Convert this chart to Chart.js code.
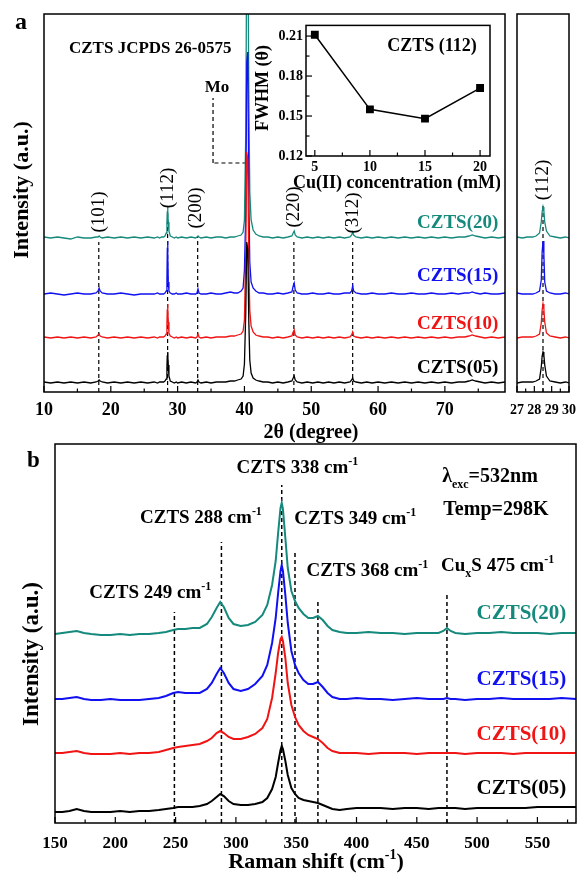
<!DOCTYPE html>
<html>
<head>
<meta charset="utf-8">
<script src="https://cdn.jsdelivr.net/npm/chart.js@4.4.1/dist/chart.umd.min.js"></script>
<style>
  html, body { margin: 0; padding: 0; background: #fff; }
  body { width: 586px; height: 875px; position: relative; overflow: hidden; }
  canvas { position: absolute; }
</style>
</head>
<body>
<canvas id="raman" width="586" height="445" style="left:0;top:430px"></canvas>
<canvas id="xrd" width="586" height="450" style="left:0;top:0"></canvas>
<canvas id="zoom" width="86" height="440" style="left:500px;top:0"></canvas>
<canvas id="fwhm" width="250" height="185" style="left:250px;top:14px"></canvas>
<script>
// ---- data ----
const samples = ['CZTS(05)', 'CZTS(10)', 'CZTS(15)', 'CZTS(20)'];

// XRD, 2theta in degrees, intensity in arbitrary offset units
const twoTheta = [
  10, 11, 12, 13, 14, 15, 16, 17, 17.8, 18.1,
  18.25, 18.4, 18.7, 19.5, 20.5, 21.5, 22.5, 23.5, 24.5, 25.5,
  26.5, 27, 27.3, 27.6, 27.9, 28.1, 28.3, 28.4, 28.45, 28.5,
  28.55, 28.6, 28.7, 28.9, 29.2, 29.5, 29.8, 30, 30.6, 31.3,
  32, 32.7, 32.9, 33.05, 33.2, 33.5, 34.3, 35, 35.8, 36.5,
  37.2, 37.9, 38.5, 39, 39.5, 39.8, 40.0, 40.2, 40.35, 40.5,
  40.65, 40.8, 41.0, 41.3, 41.7, 42.2, 42.8, 43.5, 44.2, 45,
  45.8, 46.5, 47.1, 47.3, 47.45, 47.6, 47.9, 48.6, 49.4, 50.2,
  51, 51.8, 52.6, 53.4, 54.2, 55, 55.8, 56.05, 56.2, 56.35,
  56.7, 57.5, 58.3, 59.1, 60, 61, 62, 63, 64, 65,
  66, 67, 68, 69, 70, 71, 72, 73, 73.6, 74.1,
  74.6, 75.3, 76, 77, 78, 79,
];
const xrd05 = [
  10, 9, 10, 9, 10, 9, 10, 9, 10, 11,
  12, 11, 10, 9, 10, 9, 10, 9, 10, 9,
  10, 9, 10, 10, 10, 11, 13, 25, 36, 40,
  37, 27, 16, 11, 10, 9, 10, 9, 10, 9,
  10, 9, 10, 12, 10, 9, 10, 9, 10, 10,
  10, 11, 11, 12, 13, 16, 28, 80, 150, 142,
  72, 32, 19, 14, 12, 11, 10, 10, 9, 10,
  9, 10, 11, 14, 16, 12, 10, 9, 10, 9,
  10, 9, 10, 9, 10, 9, 10, 12, 14, 11,
  10, 9, 10, 9, 10, 9, 10, 9, 10, 9,
  10, 9, 10, 9, 10, 9, 10, 10, 11, 12,
  11, 10, 9, 10, 9, 10,
];
const xrd10 = [
  55, 54, 55, 54, 55, 54, 55, 54, 55, 57,
  58, 56, 55, 54, 55, 54, 55, 54, 55, 54,
  55, 54, 55, 55, 55, 56, 58, 69, 82, 88,
  83, 70, 59, 56, 55, 54, 55, 54, 55, 54,
  55, 54, 55, 58, 55, 54, 55, 54, 55, 55,
  55, 56, 56, 57, 58, 61, 72, 140, 240, 232,
  130, 82, 66, 60, 57, 56, 55, 55, 54, 55,
  54, 55, 56, 60, 62, 57, 55, 54, 55, 54,
  55, 54, 55, 54, 55, 54, 55, 57, 60, 56,
  55, 54, 55, 54, 55, 54, 55, 54, 55, 54,
  55, 54, 55, 54, 55, 54, 55, 55, 56, 57,
  56, 55, 54, 55, 54, 55,
];
const xrd15 = [
  98, 99, 98, 97, 98, 99, 98, 98, 99, 101,
  104, 101, 99, 98, 98, 99, 98, 97, 98, 98,
  98, 99, 98, 98, 98, 99, 101, 112, 140, 151,
  138, 110, 101, 99, 98, 98, 99, 98, 98, 99,
  98, 98, 99, 103, 99, 98, 98, 99, 98, 98,
  99, 100, 99, 99, 101, 104, 122, 180, 330, 340,
  200, 130, 110, 104, 101, 99, 99, 98, 98, 99,
  98, 99, 100, 106, 109, 102, 99, 98, 98, 99,
  98, 98, 99, 98, 98, 99, 99, 101, 106, 101,
  99, 98, 98, 99, 98, 98, 99, 98, 98, 99,
  98, 98, 99, 98, 98, 99, 98, 99, 99, 100,
  99, 98, 99, 98, 98, 99,
];
const xrd20 = [
  155, 154, 155, 154, 153, 155, 154, 154, 155, 155,
  156, 155, 154, 155, 154, 155, 154, 155, 154, 155,
  154, 155, 154, 155, 155, 156, 159, 170, 180, 185,
  181, 170, 161, 156, 155, 154, 155, 154, 155, 154,
  155, 154, 155, 156, 155, 154, 155, 154, 155, 155,
  154, 155, 155, 156, 157, 160, 172, 260, 460, 470,
  300, 200, 172, 162, 158, 156, 155, 155, 154, 155,
  154, 155, 156, 159, 161, 157, 155, 154, 155, 154,
  155, 154, 155, 154, 155, 154, 155, 157, 160, 157,
  155, 154, 155, 154, 155, 154, 155, 154, 155, 154,
  155, 154, 155, 154, 155, 154, 155, 155, 156, 157,
  156, 155, 154, 155, 154, 155,
];
const xrdTicks = [10, 20, 30, 40, 50, 60, 70];
const zoomTicks = [27, 28, 29, 30];
const xrdPeaks = [18.2, 28.5, 33.0, 47.4, 56.2];
const xrdPeakLabels = ['(101)', '(112)', '(200)', '(220)', '(312)'];
const moPeak = 40.3;

// FWHM of (112) vs Cu(II) concentration
const concentration = [5, 10, 15, 20];
const fwhm = [0.211, 0.155, 0.148, 0.171];
const concTicks = [5, 10, 15, 20];
const fwhmTicks = [0.12, 0.15, 0.18, 0.21];

// Raman, shift in cm-1
const ramanShift = [
  150, 156, 162, 168, 174, 180, 188, 196, 204, 212,
  220, 228, 236, 242, 248, 252, 258, 264, 270, 276,
  280, 284, 287, 290, 294, 298, 304, 310, 316, 322,
  326, 330, 333, 335, 337, 338, 339, 341, 343, 346,
  349, 352, 356, 360, 364, 368, 372, 376, 380, 386,
  392, 400, 410, 420, 430, 440, 450, 460, 468, 472,
  475, 478, 482, 490, 500, 510, 520, 530, 540, 550,
  560, 570, 582,
];
const raman05 = [
  11, 11, 12, 14, 12, 11, 11, 11, 12, 11,
  12, 12, 13, 14, 15, 16, 16, 16, 17, 19,
  22, 26, 29, 27, 22, 19, 18, 18, 19, 21,
  25, 34, 46, 60, 73, 77, 74, 62, 48, 35,
  29, 25, 23, 22, 21, 20, 18, 16, 14, 13,
  14, 15, 15, 15, 14, 15, 15, 14, 15, 15,
  15, 15, 15, 14, 15, 15, 15, 15, 15, 16,
  16, 16, 16,
];
const raman10 = [
  70, 70, 71, 72, 70, 69, 69, 69, 70, 69,
  70, 70, 71, 73, 75, 76, 77, 78, 79, 82,
  85, 90, 92, 90, 86, 84, 84, 86, 89, 95,
  104, 125, 150, 170, 184, 186, 182, 165, 140, 118,
  106, 98, 92, 88, 86, 84, 80, 75, 72, 70,
  70, 70, 69, 70, 70, 70, 69, 70, 70, 70,
  70, 70, 70, 69, 70, 70, 70, 69, 70, 70,
  70, 70, 70,
];
const raman15 = [
  124, 124, 125, 126, 124, 123, 123, 124, 123, 123,
  123, 124, 125, 127, 130, 131, 130, 130, 130, 134,
  140, 149, 155, 150, 140, 134, 132, 134, 139, 147,
  158, 180, 205, 230, 252, 258, 252, 228, 200, 172,
  158, 150, 143, 139, 139, 141, 136, 130, 126, 124,
  124, 125, 124, 124, 123, 124, 125, 124, 124, 124,
  125, 124, 124, 123, 124, 124, 125, 124, 124, 124,
  124, 125, 124,
];
const raman20 = [
  189, 190, 191, 192, 190, 189, 188, 188, 189, 188,
  189, 189, 190, 191, 193, 194, 194, 195, 195, 199,
  206, 215, 221, 216, 205, 199, 197, 198, 201, 208,
  218, 238, 262, 290, 315, 320, 314, 285, 255, 232,
  222, 215, 209, 205, 205, 207, 203, 197, 193, 191,
  190, 190, 191, 190, 190, 189, 190, 190, 190, 192,
  195, 192, 190, 189, 190, 190, 191, 190, 190, 190,
  189, 190, 190,
];
const ramanTicks = [150, 200, 250, 300, 350, 400, 450, 500, 550];
const ramanModes = [249, 288, 338, 349, 368, 475];
const ramanModeNames = ['CZTS', 'CZTS', 'CZTS', 'CZTS', 'CZTS', 'CuxS'];

// ---- styling / layout ----
const SERIF = '"Liberation Serif", "Times New Roman", serif';
const COLORS = ['#000000', '#f01414', '#1010f0', '#14897c'];
const font = (size, weight = 'bold') => `${weight} ${size}px ${SERIF}`;

const xrdLayout = {
  lineTop: [150, 182, 155, 150, 150],
  labelX: [18.2, 28.5, 32.7, 47.4, 56.2],
  labelY: [180, 204, 184, 185, 179],
  sampleY: [25, 69, 117, 170],
};
const ramanLayout = {
  lineTop: [211, 281, 338, 273, 223, 231],
  labelX: [229, 271, 351, 399, 409, 517],
  labelY: [231, 306, 356, 305, 253, 258],
  sampleY: [36, 90, 145, 211],
};

const steps = (from, to, step) => {
  const out = [];
  for (let v = from; v <= to + 1e-9; v += step) out.push(v);
  return out;
};

const drawRich = (ctx, parts, x, yMid, size, align = 'center', color = '#000', weight = 'bold') => {
  const pieces = parts.map(([t, s]) => {
    const sz = s ? Math.round(size * 0.62) : size;
    ctx.font = font(sz, weight);
    return { t, s, sz, w: ctx.measureText(t).width };
  });
  const total = pieces.reduce((a, p) => a + p.w, 0);
  let cx = align === 'center' ? x - total / 2 : align === 'right' ? x - total : x;
  const base = yMid + size * 0.34;
  ctx.fillStyle = color;
  ctx.textAlign = 'left';
  ctx.textBaseline = 'alphabetic';
  pieces.forEach((p) => {
    ctx.font = font(p.sz, weight);
    const dy = p.s > 0 ? -size * 0.42 : p.s < 0 ? size * 0.3 : 0;
    ctx.fillText(p.t, cx, base + dy);
    cx += p.w;
  });
};

const drawVertical = (ctx, text, x, y, size, weight = 'bold') => {
  ctx.save();
  ctx.translate(x, y);
  ctx.rotate(-Math.PI / 2);
  ctx.font = font(size, weight);
  ctx.fillStyle = '#000';
  ctx.textAlign = 'center';
  ctx.textBaseline = 'middle';
  ctx.fillText(text, 0, 0);
  ctx.restore();
};

const drawFrame = (chart, t) => {
  const { ctx, chartArea: a, scales } = chart;
  ctx.save();
  ctx.setLineDash([]);
  ctx.strokeStyle = '#000';
  ctx.lineWidth = 1.5;
  ctx.strokeRect(a.left, a.top, a.right - a.left, a.bottom - a.top);
  ctx.lineWidth = 1.2;
  const tick = (scale, v, len) => {
    const p = scale.getPixelForValue(v);
    ctx.beginPath();
    if (scale.isHorizontal()) {
      ctx.moveTo(p, a.bottom);
      ctx.lineTo(p, a.bottom - len);
    } else {
      ctx.moveTo(a.left, p);
      ctx.lineTo(a.left + len, p);
    }
    ctx.stroke();
  };
  (t.xMajor || []).forEach((v) => tick(scales.x, v, 6));
  (t.xMinor || []).forEach((v) => tick(scales.x, v, 3.5));
  (t.yMajor || []).forEach((v) => tick(scales.y, v, 6));
  (t.yMinor || []).forEach((v) => tick(scales.y, v, 3.5));
  ctx.restore();
};

const dashed = (ctx, x1, y1, x2, y2, lw = 1.2) => {
  ctx.save();
  ctx.setLineDash([4, 3]);
  ctx.strokeStyle = '#000';
  ctx.lineWidth = lw;
  ctx.beginPath();
  ctx.moveTo(x1, y1);
  ctx.lineTo(x2, y2);
  ctx.stroke();
  ctx.restore();
};

const seriesSets = (xs, list, width) => list.map((ys, i) => ({
  label: samples[i],
  data: xs.map((x, j) => ({ x, y: ys[j] })),
  borderColor: COLORS[i],
  borderWidth: width,
  pointRadius: 0,
  tension: 0,
}));

const tickFont = (size) => ({ family: SERIF, weight: 'bold', size });
const xAxis = (min, max, ticks, height, size, padding) => ({
  type: 'linear',
  min,
  max,
  grid: { display: false, drawTicks: false },
  border: { display: false },
  afterBuildTicks: (s) => { s.ticks = ticks.map((v) => ({ value: v })); },
  afterFit: (s) => { s.height = height; },
  ticks: { color: '#000', padding, maxRotation: 0, autoSkip: false, font: tickFont(size) },
});
const baseOptions = (padding) => ({
  responsive: false,
  animation: false,
  events: [],
  layout: { padding },
  plugins: { legend: { display: false }, tooltip: { enabled: false } },
});

// ---- panel a : XRD ----
const xrdDecor = {
  id: 'xrdDecor',
  beforeDatasetsDraw(chart) {
    const { ctx, scales: { x, y } } = chart;
    xrdPeaks.forEach((p, i) => {
      const px = x.getPixelForValue(p);
      dashed(ctx, px, y.getPixelForValue(0), px, y.getPixelForValue(xrdLayout.lineTop[i]));
    });
    const mx = x.getPixelForValue(moPeak);
    const cx = x.getPixelForValue(35.3);
    const hy = y.getPixelForValue(229);
    dashed(ctx, mx, hy, cx, hy);
    dashed(ctx, cx, hy, cx, y.getPixelForValue(294));
  },
  afterDraw(chart) {
    const { ctx, scales: { x, y } } = chart;
    drawFrame(chart, { xMajor: xrdTicks, xMinor: steps(15, 75, 10) });
    xrdPeakLabels.forEach((t, i) => {
      drawVertical(ctx, t, x.getPixelForValue(xrdLayout.labelX[i]), y.getPixelForValue(xrdLayout.labelY[i]), 19, 'normal');
    });
    samples.forEach((s, i) => {
      drawRich(ctx, [[s, 0]], x.getPixelForValue(78), y.getPixelForValue(xrdLayout.sampleY[i]), 19, 'right', COLORS[i]);
    });
    drawRich(ctx, [['CZTS JCPDS 26-0575', 0]], x.getPixelForValue(25.9), y.getPixelForValue(345), 17);
    drawRich(ctx, [['Mo', 0]], x.getPixelForValue(35.9), y.getPixelForValue(306), 17);
    ctx.font = font(24);
    ctx.fillStyle = '#000';
    ctx.textAlign = 'left';
    ctx.textBaseline = 'alphabetic';
    ctx.fillText('a', 15, 29);
    drawVertical(ctx, 'Intensity (a.u.)', 22, 190, 22);
    drawRich(ctx, [['2θ (degree)', 0]], 311, 431, 20);
  },
};

new Chart(document.getElementById('xrd'), {
  type: 'line',
  data: { datasets: seriesSets(twoTheta, [xrd05, xrd10, xrd15, xrd20], 1.3) },
  options: {
    ...baseOptions({ left: 44, top: 14, right: 81, bottom: 0 }),
    scales: {
      x: xAxis(10, 79, xrdTicks, 58, 18, 8),
      y: { display: false, min: 0, max: 378 },
    },
  },
  plugins: [xrdDecor],
});

const zoomDecor = {
  id: 'zoomDecor',
  beforeDatasetsDraw(chart) {
    const { ctx, scales: { x, y } } = chart;
    const px = x.getPixelForValue(xrdPeaks[1]);
    dashed(ctx, px, y.getPixelForValue(0), px, y.getPixelForValue(186));
  },
  afterDraw(chart) {
    const { ctx, scales: { x, y } } = chart;
    drawFrame(chart, { xMajor: zoomTicks, xMinor: steps(27.5, 29.5, 1) });
    drawVertical(ctx, xrdPeakLabels[1], x.getPixelForValue(xrdPeaks[1]), y.getPixelForValue(212), 19, 'normal');
  },
};

new Chart(document.getElementById('zoom'), {
  type: 'line',
  data: { datasets: seriesSets(twoTheta, [xrd05, xrd10, xrd15, xrd20], 1.3) },
  options: {
    ...baseOptions({ left: 8, top: 14, right: 8, bottom: 0 }),
    scales: {
      x: xAxis(27, 30, zoomTicks, 48, 14, 10),
      y: { display: false, min: 0, max: 378 },
    },
  },
  plugins: [zoomDecor],
});

// ---- inset : FWHM ----
const fwhmDecor = {
  id: 'fwhmDecor',
  afterDraw(chart) {
    const { ctx } = chart;
    drawFrame(chart, {
      xMajor: concTicks, xMinor: steps(7.5, 17.5, 5),
      yMajor: fwhmTicks, yMinor: steps(0.135, 0.195, 0.03),
    });
    drawRich(ctx, [['CZTS (112)', 0]], 182, 31, 18);
    drawVertical(ctx, 'FWHM (θ)', 13, 74, 18);
    drawRich(ctx, [['Cu(II) concentration (mM)', 0]], 147, 168, 18);
  },
};

new Chart(document.getElementById('fwhm'), {
  type: 'line',
  data: {
    datasets: [{
      data: concentration.map((c, i) => ({ x: c, y: fwhm[i] })),
      borderColor: '#000',
      backgroundColor: '#000',
      borderWidth: 1.5,
      pointStyle: 'rect',
      pointRadius: 4.5,
      tension: 0,
    }],
  },
  options: {
    ...baseOptions({ left: 0, top: 9, right: 10, bottom: 0 }),
    scales: {
      x: xAxis(4.2, 20.9, concTicks, 43, 14, 3),
      y: {
        min: 0.12,
        max: 0.218,
        grid: { display: false, drawTicks: false },
        border: { display: false },
        afterBuildTicks: (s) => { s.ticks = fwhmTicks.map((v) => ({ value: v })); },
        afterFit: (s) => { s.width = 56; },
        ticks: { color: '#000', padding: 3, font: tickFont(14), callback: (v) => v.toFixed(2) },
      },
    },
  },
  plugins: [fwhmDecor],
});

// ---- panel b : Raman ----
const ramanDecor = {
  id: 'ramanDecor',
  beforeDatasetsDraw(chart) {
    const { ctx, scales: { x, y } } = chart;
    ramanModes.forEach((m, i) => {
      const px = x.getPixelForValue(m);
      dashed(ctx, px, y.getPixelForValue(0), px, y.getPixelForValue(ramanLayout.lineTop[i]), 1.5);
    });
  },
  afterDraw(chart) {
    const { ctx, scales: { x, y } } = chart;
    drawFrame(chart, { xMajor: ramanTicks, xMinor: steps(175, 575, 50) });
    ramanModes.forEach((m, i) => {
      const name = ramanModeNames[i];
      const head = name === 'CuxS' ? [['Cu', 0], ['x', -1], ['S', 0]] : [[name, 0]];
      drawRich(ctx, [...head, [` ${m} cm`, 0], ['-1', 1]],
        x.getPixelForValue(ramanLayout.labelX[i]), y.getPixelForValue(ramanLayout.labelY[i]), 19);
    });
    samples.forEach((s, i) => {
      drawRich(ctx, [[s, 0]], x.getPixelForValue(574), y.getPixelForValue(ramanLayout.sampleY[i]), 21, 'right', COLORS[i]);
    });
    drawRich(ctx, [['λ', 0], ['exc', -1], ['=532nm', 0]], x.getPixelForValue(471), y.getPixelForValue(348), 20, 'left');
    drawRich(ctx, [['Temp=298K', 0]], x.getPixelForValue(472), y.getPixelForValue(315), 20, 'left');
    ctx.font = font(23);
    ctx.fillStyle = '#000';
    ctx.textAlign = 'left';
    ctx.textBaseline = 'alphabetic';
    ctx.fillText('b', 27, 37);
    drawVertical(ctx, 'Intensity (a.u.)', 32, 224, 23);
    drawRich(ctx, [['Raman shift (cm', 0], ['-1', 1], [')', 0]], 316, 431, 22);
  },
};

new Chart(document.getElementById('raman'), {
  type: 'line',
  data: { datasets: seriesSets(ramanShift, [raman05, raman10, raman15, raman20], 2) },
  options: {
    ...baseOptions({ left: 55, top: 14, right: 10, bottom: 0 }),
    scales: {
      x: xAxis(150, 582, ramanTicks, 52, 17, 10),
      y: { display: false, min: 0, max: 379 },
    },
  },
  plugins: [ramanDecor],
});
</script>
</body>
</html>
